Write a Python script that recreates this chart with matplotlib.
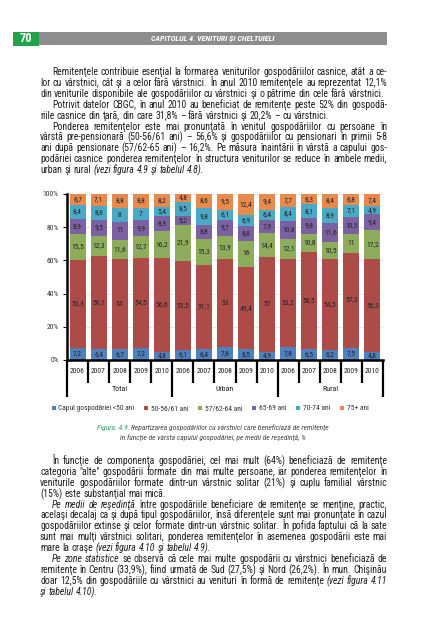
import math
import matplotlib
matplotlib.use('Agg')
import matplotlib.pyplot as plt
from matplotlib import font_manager
from matplotlib.font_manager import FontProperties
from matplotlib.patches import Rectangle
import matplotlib.transforms as mtransforms

# date (procente)
years = ['2006', '2007', '2008', '2009', '2010'] * 3
groups = ['Total', 'Urban', 'Rural']
series = ['Capul gospodăriei <50 ani', '50-56/61 ani', '57/62-64 ani',
          '65-69 ani', '70-74 ani', '75+ ani']
sub50 = [7.2, 6.4, 6.7, 7.2, 4.8, 6.1, 6.4, 7.8, 6.5, 4.9, 7.8, 6.5, 6.2, 7.5, 4.8]
a50_61 = [53.3, 56.1, 54, 54.5, 56.6, 53.5, 51.1, 53, 49.4, 57, 53.2, 58.5, 54.5, 57.2, 56.3]
a57_64 = [15.5, 12.3, 11.6, 12.7, 16.2, 21.9, 15.3, 13.9, 16, 14.4, 12.1, 10.8, 10.5, 11, 17.2]
a65_69 = [8.9, 9.5, 11, 9.9, 8.9, 5.2, 8.8, 9.7, 8.8, 7.9, 10.8, 9.8, 11.6, 10.5, 9.4]
a70_74 = [8.4, 8.6, 8, 7, 5.4, 8.5, 9.8, 6.1, 6.9, 6.4, 8.4, 8.1, 8.9, 7.1, 4.9]
a75 = [6.7, 7.1, 8.8, 8.8, 8.2, 4.8, 8.6, 9.5, 12.4, 9.4, 7.7, 6.3, 8.4, 6.8, 7.4]
yticks = [0, 20, 40, 60, 80, 100]
colors = ['#4f7fbd', '#ad4b49', '#8dac5c', '#7b61a1', '#4aa9c5', '#e8894d']

# text
para1 = [
    "Remitenţele contribuie esenţial la formarea veniturilor gospodăriilor casnice, atât a ce-",
    "lor cu vârstnici, cât şi a celor fără vârstnici. În anul 2010 remitenţele au reprezentat 12,1%",
    "din veniturile disponibile ale gospodăriilor cu vârstnici şi o pătrime din cele fără vârstnici.",
    "Potrivit datelor CBGC, în anul 2010 au beneficiat de remitenţe peste 52% din gospodă-",
    "riile casnice din ţară, din care 31,8% – fără vârstnici şi 20,2% – cu vârstnici.",
    "Ponderea remitenţelor este mai pronunţată în venitul gospodăriilor cu persoane în",
    "vârstă pre-pensionară (50-56/61 ani) – 56,6% şi gospodăriilor cu pensionari în primii 5-8",
    "ani după pensionare (57/62-65 ani) – 16,2%. Pe măsura înaintării în vârstă a capului gos-",
    "podăriei casnice ponderea remitenţelor în structura veniturilor se reduce în ambele medii,",
    "urban şi rural (*vezi figura 4.9 şi tabelul 4.8*).",
]
para1_first = [0, 3, 5]
para1_last = [2, 4, 9]
para2 = [
    "În funcţie de componenţa gospodăriei, cel mai mult (64%) beneficiază de remitenţe",
    "categoria \"alte\" gospodării formate din mai multe persoane, iar ponderea remitenţelor în",
    "veniturile gospodăriilor formate dintr-un vârstnic solitar (21%) şi cuplu familial vârstnic",
    "(15%) este substanţial mai mică.",
    "*Pe medii de reşedinţă* între gospodăriile beneficiare de remitenţe se menţine, practic,",
    "acelaşi decalaj ca şi după tipul gospodăriilor, însă diferenţele sunt mai pronunţate în cazul",
    "gospodăriilor extinse şi celor formate dintr-un vârstnic solitar. În pofida faptului că la sate",
    "sunt mai mulţi vârstnici solitari, ponderea remitenţelor în asemenea gospodării este mai",
    "mare la oraşe *(vezi figura 4.10 şi tabelul 4.9).*",
    "*Pe zone statistice* se observă că cele mai multe gospodării cu vârstnici beneficiază de",
    "remitenţe în Centru (33,9%), fiind urmată de Sud (27,5%) şi Nord (26,2%). În mun. Chişinău",
    "doar 12,5% din gospodăriile cu vârstnici au venituri în formă de remitenţe *(vezi figura 4.11*",
    "*şi tabelul 4.10).*",
]
para2_first = [0, 4, 9]
para2_last = [3, 8, 12]

names = {f.name for f in font_manager.fontManager.ttflist}
FONT = 'Roboto'
for cand in ['Liberation Sans Narrow', 'Roboto Condensed', 'Roboto']:
    if cand in names:
        FONT = cand
        break
plt.rcParams['font.family'] = [FONT, 'DejaVu Sans']

W, H = 440, 640
fig = plt.figure(figsize=(W / 100, H / 100), dpi=100)
renderer = fig.canvas.get_renderer()


def fx(x):
    return x / W


def fy(y):
    return 1 - y / H


def prop_of(size, style='normal', weight='normal'):
    return FontProperties(family=[FONT, 'DejaVu Sans'], size=size, style=style, weight=weight)


def text_w(s, size, style='normal', weight='normal'):
    w, h, d = renderer.get_text_width_height_descent(s, prop_of(size, style, weight), ismath=False)
    return w


def put_word(x, ybase, s, size, style='normal', color='#1f1f1f'):
    # agg rounds every text on its own: shift so all words share one pixel baseline
    w, h, d = renderer.get_text_width_height_descent(s, prop_of(size, style), ismath=False)
    ytop = round(ybase) + math.floor(h) - math.floor(h - d) - d
    fig.text(fx(x), fy(ytop), s, fontsize=size, style=style, color=color,
             va='baseline', ha='left')


def split_words(line):
    words = []
    ital = False
    for tok in line.split(' '):
        clean = ''
        has_it = False
        for ch in tok:
            if ch == '*':
                ital = not ital
                continue
            clean += ch
            if ital:
                has_it = True
        words.append((clean, has_it))
    return words


BODY_COLOR = '#1f1f1f'
X0, X1 = 40, 387
INDENT = 12


def body_size(lines, base):
    worst = 0
    for line in lines:
        ws = split_words(line)
        tot = sum(text_w(w, base, 'italic' if it else 'normal') for w, it in ws)
        tot += (text_w('a a', base) - text_w('aa', base)) * 0.8 * (len(ws) - 1)
        worst = max(worst, tot / (X1 - X0))
    return base / max(worst, 1.0)


def draw_par(lines, y0, step, first, last, size):
    sp = text_w('a a', size) - text_w('aa', size)
    for i, line in enumerate(lines):
        ws = split_words(line)
        xs = X0 + (INDENT if i in first else 0)
        widths = [text_w(w, size, 'italic' if it else 'normal') for w, it in ws]
        if i in last or len(ws) < 2:
            gap = sp
        else:
            gap = (X1 - xs - sum(widths)) / (len(ws) - 1)
        x = xs
        y = y0 + i * step
        for (w, it), wd in zip(ws, widths):
            put_word(x, y, w, size, 'italic' if it else 'normal', BODY_COLOR)
            x += wd + gap


# header
fig.patches.append(Rectangle((fx(39), fy(45)), fx(387) - fx(39), (45 - 32) / H,
                             transform=fig.transFigure, color='#8d8d8d', lw=0))
fig.patches.append(Rectangle((fx(13), fy(46)), fx(39) - fx(13), (46 - 32) / H,
                             transform=fig.transFigure, color='#21a34a', lw=0))
fig.text(fx(26), fy(39), '70', fontsize=9, weight='bold', color='white', ha='center', va='center')
fig.text(fx(213), fy(39), 'CAPITOLUL 4. VENITURI ŞI CHELTUIELI', fontsize=5.8, weight='bold',
         style='italic', color='white', ha='center', va='center')

fs = min(7.0, body_size(para1 + para2, 7.0))
draw_par(para1, 75, 10.9, para1_first, para1_last, fs)
draw_par(para2, 464, 10.9, para2_first, para2_last, fs)

# chart
ax = fig.add_axes([fx(67), fy(360), (383 - 67) / W, (360 - 194) / H])
stack = [sub50, a50_61, a57_64, a65_69, a70_74, a75]
xpos = list(range(len(years)))
bottom = [0.0] * len(years)
handles = []
for vals, col, name in zip(stack, colors, series):
    bars = ax.bar(xpos, vals, 0.76, bottom=bottom, color=col, label=name, zorder=2)
    handles.append(bars)
    for x, v, b in zip(xpos, vals, bottom):
        lbl = ('%g' % v).replace('.', ',')
        ax.text(x, b + v / 2, lbl, ha='center', va='center', fontsize=5.4, color='#262626', zorder=3)
    bottom = [b + v for b, v in zip(bottom, vals)]

ax.set_xlim(-0.5, len(years) - 0.5)
ax.set_ylim(0, 100)
ax.set_yticks(yticks)
ax.set_yticklabels(['%d%%' % t for t in yticks], fontsize=5.5, color='#333333')
ax.tick_params(axis='y', length=3, width=0.8, pad=3)
ax.set_xticks([])
for s in ['top', 'right']:
    ax.spines[s].set_visible(False)
ax.spines['left'].set_linewidth(1.8)
ax.spines['bottom'].set_linewidth(1.8)
ax.grid(axis='y', color='#eadede', lw=0.5, zorder=0)

trans = mtransforms.blended_transform_factory(ax.transData, ax.transAxes)
px = 1.0 / 166
for i, yr in enumerate(years):
    ax.text(i, -11 * px, yr, transform=trans, ha='center', va='center', fontsize=5.5, color='#222222')
for k in range(len(years) + 1):
    xb = k - 0.5
    long_line = k % 5 == 0
    ax.plot([xb, xb], [0, -(37 if long_line else 23) * px], transform=trans, color='black',
            lw=1.6, clip_on=False, solid_capstyle='butt')
for g, name in enumerate(groups):
    ax.text(g * 5 + 2, -29 * px, name, transform=trans, ha='center', va='center',
            fontsize=5.7, color='#222222')

fig.legend(handles=handles, labels=series, ncol=6, loc='center', bbox_to_anchor=(fx(210), fy(409)),
           frameon=False, fontsize=5.4, handlelength=0.55, handleheight=0.55, handletextpad=0.35,
           columnspacing=1.3, labelcolor='#333333')

# caption
cap_a = 'Figura. 4.9. '
cap_b = 'Repartizarea gospodăriilor cu vârstnici care beneficiază de remitenţe'
cap_c = 'în funcţie de vârsta capului gospodăriei, pe medii de reşedinţă, %'
csz = 5.4
wa = text_w(cap_a, csz, 'italic')
wb = text_w(cap_b, csz, 'italic')
wc = text_w(cap_c, csz, 'italic')
xs = 213 - (wa + wb) / 2
put_word(xs, 430, cap_a, csz, 'italic', '#3a9e6c')
put_word(xs + wa, 430, cap_b, csz, 'italic', '#444444')
put_word(213 - wc / 2, 440, cap_c, csz, 'italic', '#444444')

fig.savefig('out.png', dpi=100)
